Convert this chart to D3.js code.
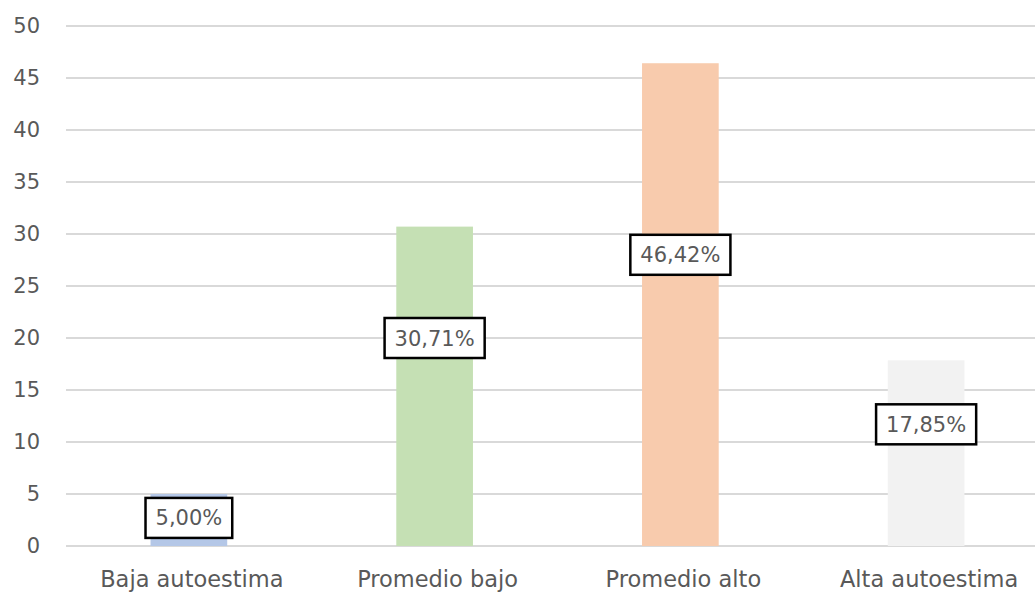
<!DOCTYPE html>
<html>
<head>
<meta charset="utf-8">
<script src="https://cdn.jsdelivr.net/npm/d3@7"></script>
<style>
  html, body { margin: 0; padding: 0; background: #ffffff; }
  svg { display: block; }
  text { font-family: "DejaVu Sans", sans-serif; }
</style>
</head>
<body>
<script>
const categories = ["Baja autoestima", "Promedio bajo", "Promedio alto", "Alta autoestima"];
const values = [5.00, 30.71, 46.42, 17.85];
const valueLabels = ["5,00%", "30,71%", "46,42%", "17,85%"];
const labelAt = [2.7, 20.0, 28.0, 11.7];
const yTicks = [0, 5, 10, 15, 20, 25, 30, 35, 40, 45, 50];
const barColors = ["#b4c7e7", "#c5e0b4", "#f8cbad", "#f2f2f2"];

const W = 1035, H = 592;
const FONT = "'DejaVu Sans', sans-serif";
const svg = d3.select("body").append("svg").attr("width", W).attr("height", H);

const x = d3.scaleBand().domain(categories).range([66, 1049]).paddingInner(0.688).paddingOuter(0.344);
const y = d3.scaleLinear().domain([0, 50]).range([546, 26]);

// gridlines
svg.append("g").selectAll("line").data(yTicks).join("line")
  .attr("x1", 66).attr("x2", 1049)
  .attr("y1", d => y(d)).attr("y2", d => y(d))
  .attr("stroke", "#d9d9d9").attr("stroke-width", 2);

// y axis labels
const yAxis = d3.axisLeft(y).tickValues(yTicks).tickSize(0).tickPadding(0).tickFormat(d3.format("d"));
const gy = svg.append("g").attr("transform", "translate(40,0)").call(yAxis);
gy.select(".domain").remove();
gy.selectAll("text").attr("fill", "#595959").attr("font-family", FONT).style("font-size", "21px");

// bars
svg.append("g").selectAll("rect").data(values).join("rect")
  .attr("x", (d, i) => x(categories[i]))
  .attr("width", x.bandwidth())
  .attr("y", d => y(d))
  .attr("height", d => y(0) - y(d))
  .attr("fill", (d, i) => barColors[i]);

// x axis labels
const xAxis = d3.axisBottom(x).tickSize(0).tickPadding(0);
const gx = svg.append("g").attr("transform", "translate(3,587)").call(xAxis);
gx.select(".domain").remove();
gx.selectAll("text").attr("y", 0).attr("dy", null)
  .attr("fill", "#595959").attr("font-family", FONT).style("font-size", "22.5px");

// data labels
const lg = svg.append("g").selectAll("g").data(values).join("g")
  .attr("transform", (d, i) => `translate(${x(categories[i]) + x.bandwidth() / 2},${y(labelAt[i])})`);
lg.each(function(d, i) {
  const g = d3.select(this);
  const t = g.append("text").text(valueLabels[i])
    .attr("text-anchor", "middle").attr("dy", "0.36em")
    .attr("fill", "#595959").attr("font-family", FONT).style("font-size", "21px");
  const bb = t.node().getBBox();
  g.insert("rect", "text")
    .attr("x", -bb.width / 2 - 10).attr("y", -20)
    .attr("width", bb.width + 20).attr("height", 40)
    .attr("fill", "#ffffff").attr("stroke", "#000000").attr("stroke-width", 2.5);
});
</script>
</body>
</html>
